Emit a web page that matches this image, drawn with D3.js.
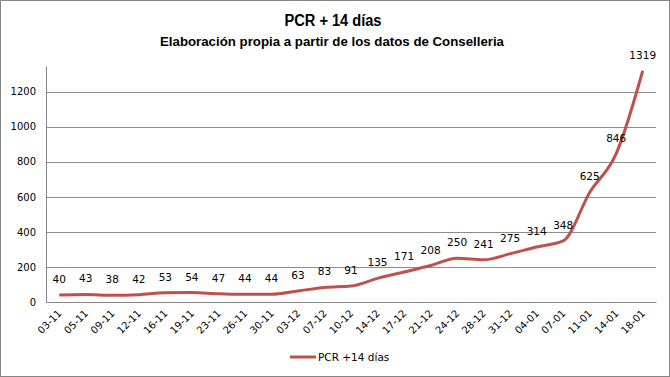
<!DOCTYPE html>
<html lang="es">
<head>
<meta charset="utf-8" />
<script src="https://d3js.org/d3.v7.min.js"></script>
<style>
  body { margin: 0; background: #fff; }
  #chart { width: 670px; height: 377px; }
  text { font-family: "DejaVu Sans", Verdana, sans-serif; fill: #000; }
</style>
</head>
<body>
<div id="chart"></div>
<script>
// data
var dates = ["03-11","05-11","09-11","12-11","16-11","19-11","23-11","26-11","30-11",
  "03-12","07-12","10-12","14-12","17-12","21-12","24-12","28-12","31-12",
  "04-01","07-01","11-01","14-01","18-01"];
var pcr = [40,43,38,42,53,54,47,44,44,63,83,91,135,171,208,250,241,275,314,348,625,846,1319];
var yTicks = [0,200,400,600,800,1000,1200];

var W = 670, H = 377;
var margin = { top: 66, right: 14, bottom: 75, left: 46 };
var width = W - margin.left - margin.right,
    height = H - margin.top - margin.bottom;

var svg = d3.select("#chart").append("svg")
  .attr("width", W).attr("height", H);

// outer border
svg.append("rect")
  .attr("x", 0.5).attr("y", 0.5)
  .attr("width", W - 1).attr("height", H - 1)
  .attr("fill", "#fff").attr("stroke", "#868686");

// titles
svg.append("text")
  .attr("x", 333).attr("y", 26)
  .attr("text-anchor", "middle")
  .style("font-family", "'Liberation Sans', Arial, sans-serif")
  .style("font-weight", "bold").style("font-size", "16px")
  .attr("textLength", 97).attr("lengthAdjust", "spacingAndGlyphs")
  .text("PCR + 14 días");
svg.append("text")
  .attr("x", 332).attr("y", 46)
  .attr("text-anchor", "middle")
  .style("font-family", "'Liberation Sans', Arial, sans-serif")
  .style("font-weight", "bold").style("font-size", "13px")
  .attr("textLength", 344).attr("lengthAdjust", "spacingAndGlyphs")
  .text("Elaboración propia a partir de los datos de Conselleria");

var g = svg.append("g")
  .attr("transform", "translate(" + margin.left + "," + margin.top + ")");

var x = d3.scaleBand().domain(dates).range([0, width]);
var y = d3.scaleLinear().domain([0, 1346]).range([height, 0]);

// gridlines
g.append("g")
  .selectAll("line")
  .data(yTicks.slice(1))
  .enter().append("line")
  .attr("x1", 0).attr("x2", width)
  .attr("y1", function (d) { return Math.round(y(d)) + 0.5; })
  .attr("y2", function (d) { return Math.round(y(d)) + 0.5; })
  .attr("stroke", "#8c8c8c");

// y axis
var yAxis = g.append("g")
  .call(d3.axisLeft(y).tickValues(yTicks).tickFormat(d3.format("d"))
    .tickSize(0).tickPadding(10));
yAxis.select(".domain").attr("stroke", "#868686");
yAxis.selectAll("text").style("font-size", "10px")
  .style("font-family", "'DejaVu Sans', Verdana, sans-serif");

// x axis
var xAxis = g.append("g")
  .attr("transform", "translate(0," + height + ")")
  .call(d3.axisBottom(x).tickSize(0).tickPadding(0));
xAxis.select(".domain").attr("stroke", "#868686");
xAxis.selectAll("text")
  .style("font-size", "10px")
  .style("font-family", "'DejaVu Sans', Verdana, sans-serif")
  .attr("text-anchor", "end")
  .attr("dy", null)
  .attr("transform", "translate(3,12) rotate(-45)");

// line
var cx = function (d, i) { return x(dates[i]) + x.bandwidth() / 2; };
var line = d3.line()
  .x(cx)
  .y(function (d) { return y(d); })
  .curve(d3.curveMonotoneX);

g.append("path")
  .datum(pcr)
  .attr("fill", "none")
  .attr("stroke", "#c0504d")
  .attr("stroke-width", 3)
  .attr("d", line);

// value labels
g.append("g")
  .selectAll("text")
  .data(pcr)
  .enter().append("text")
  .attr("x", cx)
  .attr("y", function (d) { return y(d) - 12; })
  .attr("text-anchor", "middle")
  .style("font-size", "10.5px")
  .text(function (d) { return d; });

// legend
var lg = svg.append("g").attr("transform", "translate(290,357)");
lg.append("line")
  .attr("x1", 0).attr("x2", 26)
  .attr("stroke", "#c0504d").attr("stroke-width", 3);
lg.append("text")
  .attr("x", 28).attr("y", 4)
  .style("font-size", "10.5px")
  .text("PCR +14 días");
</script>
</body>
</html>
